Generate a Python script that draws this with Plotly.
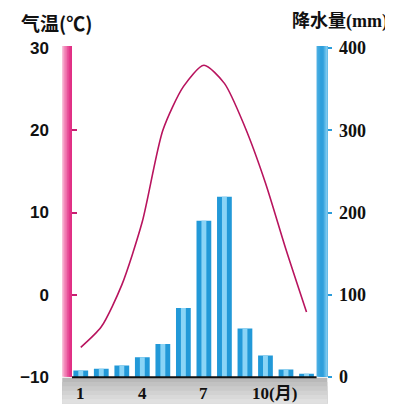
import plotly.graph_objects as go

# data
months = [1, 2, 3, 4, 5, 6, 7, 8, 9, 10, 11, 12]
temperature = [-6.4, -3.9, 1.2, 8.9, 20.0, 25.3, 27.9, 25.7, 20.4, 13.6, 5.5, -2.1]
precipitation = [8, 10, 14, 24, 40, 84, 190, 219, 59, 26, 9, 4]
month_ticks = [1, 4, 7, 10]
month_labels = ["1", "4", "7", "10(月)"]
temp_ticks = [-10, 0, 10, 20, 30]
rain_ticks = [0, 100, 200, 300, 400]

# page has an 8px body margin, so the figure starts at (8, 8)
OFF = 8
W, H = 393 - OFF, 404 - OFF
L, R, T, B = 65 - OFF, 55, 48 - OFF, 404 - 377.3
pw = W - L - R
ph = H - T - B

def px_x(x):
    # screen px -> paper coords
    return (x - OFF - L) / pw

def px_y(y):
    return (H - B - (y - OFF)) / ph

fig = go.Figure()

# bars: dark body + light centre stripe
fig.add_trace(go.Bar(x=months, y=precipitation, yaxis="y2", width=0.72,
                     marker=dict(color="#2299d8", line=dict(width=0)),
                     showlegend=False, hoverinfo="skip"))
fig.add_trace(go.Bar(x=months, y=precipitation, yaxis="y2", width=0.24,
                     marker=dict(color="#8ad4f6", line=dict(width=0)),
                     showlegend=False, hoverinfo="skip"))

fig.add_trace(go.Scatter(x=months, y=temperature, mode="lines",
                         line=dict(color="#b8145e", width=1.6, shape="spline", smoothing=0.7),
                         showlegend=False, hoverinfo="skip"))

shapes = []
# pink temperature bar, gradient made of overlapping stripes (each runs to the right edge)
pink = ["#f6a9cc", "#f28cbb", "#ee6fab", "#e9529a", "#e4398b", "#e02f84"]
for i, c in enumerate(pink):
    w = 10 / len(pink)
    shapes.append(dict(type="rect", xref="paper", yref="paper",
                       x0=px_x(55 + i * w), x1=px_x(65),
                       y0=px_y(377), y1=px_y(46), fillcolor=c, line=dict(width=0), layer="above"))
# blue precipitation bar
blue = ["#4aaee3", "#3aa6df", "#2f9fdc", "#2f9fdc", "#4fb2e5", "#7cc8ef"]
for i, c in enumerate(blue):
    w = 11 / len(blue)
    shapes.append(dict(type="rect", xref="paper", yref="paper",
                       x0=px_x(316 + i * w), x1=px_x(327),
                       y0=px_y(377), y1=px_y(46), fillcolor=c, line=dict(width=0), layer="above"))
# grey strip under the x axis
greys = ["#b9b9b9", "#c2c2c2", "#cacaca", "#d2d2d2", "#d9d9d9", "#e0e0e0"]
for i, c in enumerate(greys):
    h = 26 / len(greys)
    shapes.append(dict(type="rect", xref="paper", yref="paper",
                       x0=px_x(55), x1=px_x(327),
                       y0=px_y(404), y1=px_y(378 + i * h),
                       fillcolor=c, line=dict(width=0), layer="below"))
# base line
shapes.append(dict(type="line", xref="paper", yref="paper",
                   x0=px_x(65), x1=px_x(316), y0=px_y(377.5), y1=px_y(377.5),
                   line=dict(color="#111111", width=2)))

annotations = []
for m, t in zip(month_ticks, month_labels):
    annotations.append(dict(x=m, y=px_y(394), xref="x", yref="paper", text=t,
                            showarrow=False, xanchor="left" if len(t) > 2 else "center",
                            xshift=-15 if len(t) > 2 else 0, yanchor="middle",
                            font=dict(family="Liberation Serif, Noto Sans CJK SC", size=17,
                                      color="#111111", weight="bold")))
annotations.append(dict(x=px_x(11), y=px_y(22), xref="paper", yref="paper", text="气温(℃)",
                        showarrow=False, xanchor="left", yanchor="middle",
                        font=dict(family="Noto Sans CJK SC", size=19, color="#111111", weight="bold")))
annotations.append(dict(x=px_x(391), y=px_y(21), xref="paper", yref="paper", text="降水量(mm)",
                        showarrow=False, xanchor="right", yanchor="middle",
                        font=dict(family="Liberation Serif, Noto Sans CJK SC", size=18,
                                  color="#111111", weight="bold")))

fig.update_layout(
    width=W, height=H,
    margin=dict(l=L, r=R, t=T, b=B),
    paper_bgcolor="white", plot_bgcolor="white",
    barmode="overlay",
    xaxis=dict(domain=[0, px_x(316)], range=[0.573, 12.49], showgrid=False,
               zeroline=False, showticklabels=False, ticks=""),
    yaxis=dict(range=[-10, 30], tickvals=temp_ticks, ticks="inside", ticklen=5,
               tickcolor="#c81e72", tickwidth=1.5, showgrid=False, zeroline=False,
               showline=False, ticklabelstandoff=22,
               tickfont=dict(family="Liberation Sans", size=17, color="#111111", weight="bold")),
    yaxis2=dict(range=[0, 400], tickvals=rain_ticks, overlaying="y", side="right",
                anchor="free", position=px_x(327), ticks="outside", ticklen=4,
                tickcolor="#2b9cda", tickwidth=1.5, showgrid=False, zeroline=False,
                showline=False, ticklabelstandoff=3,
                tickfont=dict(family="Liberation Serif", size=18, color="#111111", weight="bold")),
    shapes=shapes,
    annotations=annotations,
)

fig.write_html("out.html")
